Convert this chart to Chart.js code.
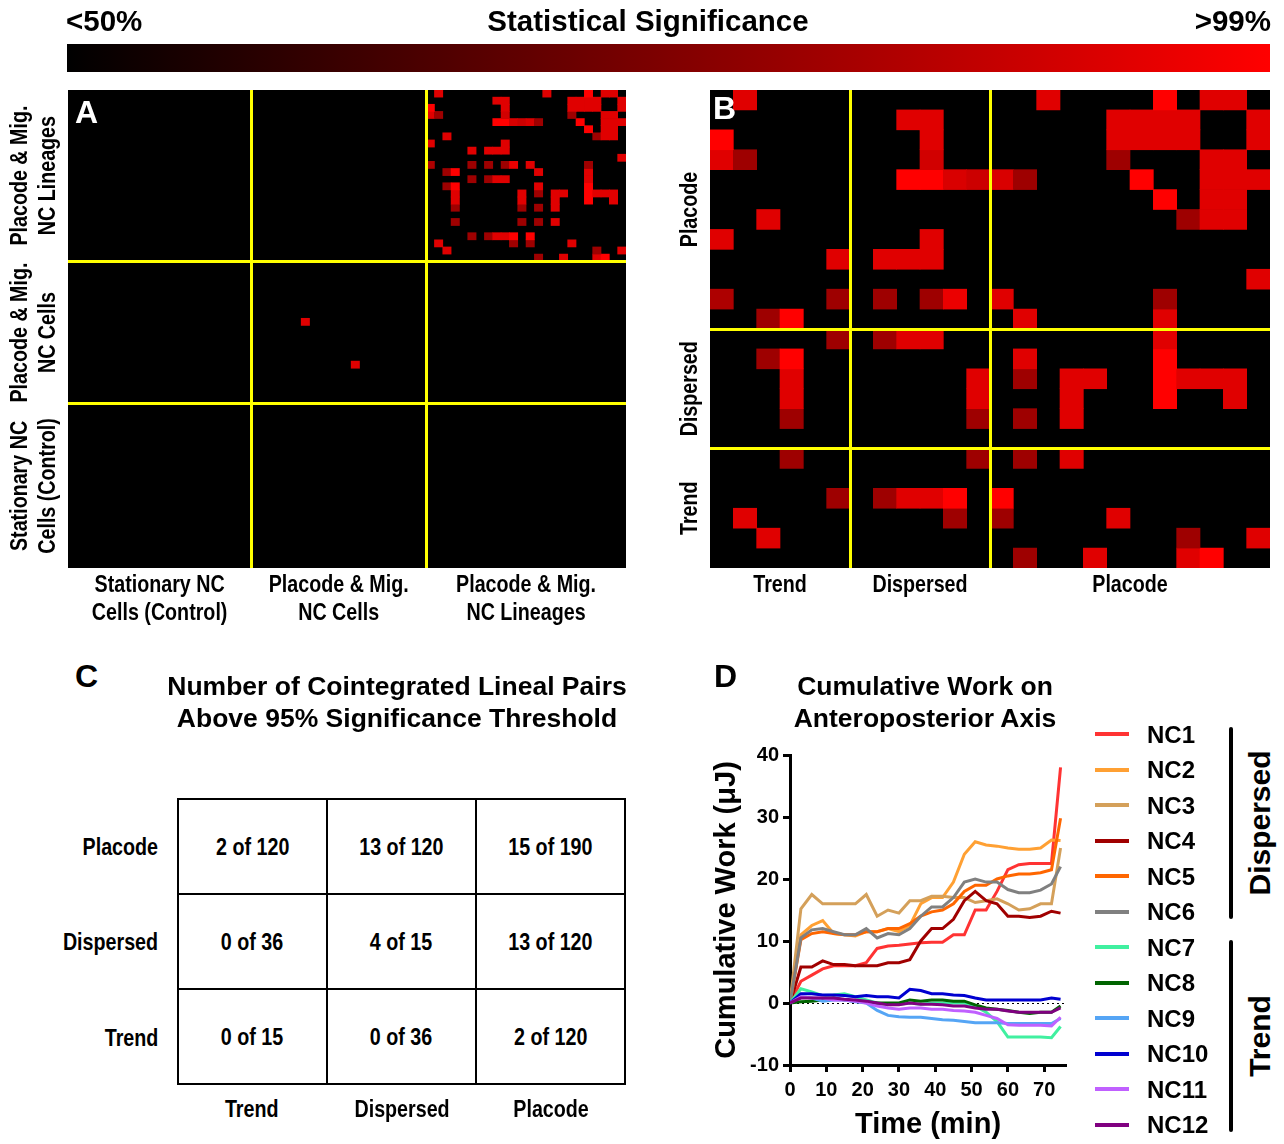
<!DOCTYPE html>
<html>
<head>
<meta charset="utf-8">
<script src="https://cdn.jsdelivr.net/npm/chart.js@4.4.1/dist/chart.umd.min.js"></script>
<style>
html,body{margin:0;padding:0;background:#fff;}
body{width:1284px;height:1144px;position:relative;overflow:hidden;font-family:"Liberation Sans",Arial,Helvetica,sans-serif;color:#000;}
canvas{position:absolute;}
.t{position:absolute;white-space:nowrap;font-weight:bold;}
.n{display:inline-block;transform:scaleX(0.82);font-weight:bold;white-space:nowrap;}
.rot{transform:translate(-50%,-50%) rotate(-90deg);}
#cbar{position:absolute;left:67px;top:44px;width:1203px;height:28px;background:linear-gradient(to right,#000 0%,#ff0000 100%);}
table.c{position:absolute;left:177px;top:798px;width:449px;height:287px;border-collapse:collapse;}
table.c td{border:2px solid #000;text-align:center;vertical-align:middle;font-size:24px;width:33.3%;height:33.3%;padding:0;}
</style>
</head>
<body>
<div id="cbar"></div>
<canvas id="chartA" width="642" height="640" style="left:0;top:0;width:642px;height:640px"></canvas>
<canvas id="chartB" width="642" height="640" style="left:642px;top:0;width:642px;height:640px"></canvas>
<canvas id="chartD" width="400" height="504" style="left:680px;top:640px;width:400px;height:504px"></canvas>
<div id="overlay"></div>
<script>
// ---------------- DATA ----------------
const sigTitle = 'Statistical Significance';
const sigLow = '<50%';
const sigHigh = '>99%';

// significance levels (0 = black, 1 = full red)
const B = 1.0, M = 0.88, D = 0.62;

// Panel B : 24 x 24 cells, [column, row, significance]
const colGroupLabelsB = ['Trend', 'Dispersed', 'Placode'];
const colGroupSizesB = [6, 6, 12];
const rowGroupLabelsB = ['Placode', 'Dispersed', 'Trend'];
const rowGroupSizesB = [12, 6, 6];
const cellsB = [
  [1,0,M],[14,0,M],[19,0,B],[21,0,M],[22,0,M],
  [8,1,M],[9,1,M],[17,1,M],[18,1,M],[19,1,M],[20,1,M],[23,1,M],
  [0,2,B],[9,2,M],[17,2,M],[18,2,M],[19,2,M],[20,2,M],[23,2,M],
  [0,3,M],[1,3,D],[9,3,0.82],[17,3,D],[21,3,M],[22,3,M],
  [8,4,B],[9,4,B],[10,4,0.85],[11,4,0.8],[12,4,0.85],[13,4,D],[18,4,B],[21,4,M],[22,4,M],[23,4,M],
  [19,5,B],[21,5,M],[22,5,M],
  [2,6,M],[20,6,D],[21,6,M],[22,6,M],
  [0,7,M],[9,7,M],
  [5,8,M],[7,8,M],[8,8,M],[9,8,M],
  [23,9,M],
  [0,10,0.68],[5,10,D],[7,10,D],[9,10,D],[10,10,0.92],[12,10,M],[19,10,D],
  [2,11,D],[3,11,B],[13,11,M],[19,11,M],
  [5,12,D],[7,12,D],[8,12,M],[9,12,M],[19,12,M],
  [2,13,D],[3,13,B],[13,13,M],[19,13,B],
  [3,14,M],[11,14,M],[13,14,D],[15,14,M],[16,14,M],[19,14,B],[20,14,M],[21,14,M],[22,14,M],
  [3,15,M],[11,15,M],[15,15,M],[19,15,B],[22,15,M],
  [3,16,D],[11,16,D],[13,16,D],[15,16,M],
  [3,18,D],[11,18,D],[13,18,D],[15,18,M],
  [5,20,D],[7,20,D],[8,20,M],[9,20,M],[10,20,B],[12,20,B],
  [1,21,M],[10,21,D],[12,21,D],[17,21,M],
  [2,22,M],[20,22,D],[23,22,M],
  [13,23,D],[16,23,M],[20,23,M],[21,23,B]
];

// Panel A : 67 x 67 cells; the lineage block (top right) shows the same pattern as panel B
const colGroupLabelsA = [['Stationary NC','Cells (Control)'], ['Placode & Mig.','NC Cells'], ['Placode & Mig.','NC Lineages']];
const colGroupSizesA = [22, 21, 24];
const rowGroupLabelsA = [['Placode & Mig.','NC Lineages'], ['Placode & Mig.','NC Cells'], ['Stationary NC','Cells (Control)']];
const rowGroupSizesA = [24, 20, 23];
const lineageColStartA = 43;
const cellsCellsA = [[28,32,M],[34,38,M]];

// Panel C
const tableTitleC = ['Number of Cointegrated Lineal Pairs', 'Above 95% Significance Threshold'];
const rowLabelsC = ['Placode', 'Dispersed', 'Trend'];
const colLabelsC = ['Trend', 'Dispersed', 'Placode'];
const pairsSig = [[2, 13, 15], [0, 4, 13], [0, 0, 2]];
const pairsTotal = [[120, 120, 190], [36, 15, 120], [15, 36, 120]];

// Panel D
const titleD = ['Cumulative Work on', 'Anteroposterior Axis'];
const timeMin = [0,3,6,9,12,15,18,21,24,27,30,33,36,39,42,45,48,51,54,57,60,63,66,69,72,74.5];
const workNC1  = [0,3.5,4.5,5.5,6,6,6,6.5,8.8,9.2,9.3,9.5,9.7,9.8,9.8,11,11,15,15,18,21.5,22.3,22.5,22.5,22.5,38];
const workNC2  = [0,11,12.5,13.3,11.2,11,10.8,11.5,11.5,12,11.5,12.5,16,17,17,19.5,24,26,25.5,25.3,25,24.8,24.8,25,26.3,26.2];
const workNC3  = [0,15.2,17.5,16,16,16,16,17.5,14,15,14.5,16.5,16.5,17.2,17.2,17,17,16.2,16.5,16.8,16,15,15.2,16,16,25];
const workNC4  = [0,5.8,5.8,6.8,6.2,6.2,6,6,6,6.5,6.5,7,10,12,12,13.5,16.5,18,16.5,16,14,14,13.8,14,14.8,14.5];
const workNC5  = [0,10.2,11.2,11.5,11.2,11,11,11.5,11.5,12,12,12.8,14,14.7,15,16,18,19,19,20,20.5,20.8,20.8,21,21.5,29.8];
const workNC6  = [0,10.5,11.8,12,11.5,11,11,12,10.5,11.2,11,12,14,15.5,15.5,17,19.5,20,19.5,19.5,18.3,17.8,17.8,18.2,19.2,22];
const workNC7  = [0,2.3,1.8,1.2,1.3,1.5,1,0.5,0,-0.2,-0.2,0,-0.2,0,0,0,0,-0.5,-1.5,-3,-5.5,-5.5,-5.5,-5.5,-5.6,-3.8];
const workNC8  = [0,0.2,0.3,0.5,0.8,0.5,0.3,0.2,0,0,0,0.5,0.3,0.5,0.5,0.3,0.3,-0.3,-0.8,-1,-1.2,-1.5,-1.7,-1.5,-1.5,-0.5];
const workNC9  = [0,1,0.8,0.3,0.5,0.5,0.2,0,-1.2,-2,-2.2,-2.3,-2.3,-2.5,-2.7,-2.8,-3,-3.2,-3.2,-3.2,-3.3,-3.3,-3.3,-3.3,-3.3,-2.5];
const workNC10 = [0,1.5,1.5,1.3,1.3,1.2,1,1.2,1,1,0.8,2.2,2,1.5,1.5,1.3,1.2,0.8,0.5,0.5,0.5,0.5,0.5,0.5,0.8,0.6];
const workNC11 = [0,1,0.8,0.8,0.5,0.5,0.3,0,-0.5,-0.8,-1,-0.8,-0.8,-1,-1,-1.2,-1.3,-1.5,-2,-2.5,-3.5,-3.6,-3.6,-3.6,-3.7,-2.3];
const workNC12 = [0,0.8,0.8,0.8,0.8,0.6,0.5,0.3,0,-0.3,-0.3,0,-0.2,-0.2,-0.3,-0.5,-0.5,-0.8,-1,-1,-1.3,-1.5,-1.5,-1.5,-1.5,-0.8];
const seriesNames = ['NC1','NC2','NC3','NC4','NC5','NC6','NC7','NC8','NC9','NC10','NC11','NC12'];
const seriesValues = [workNC1,workNC2,workNC3,workNC4,workNC5,workNC6,workNC7,workNC8,workNC9,workNC10,workNC11,workNC12];
const seriesColors = ['#ff3333','#ffa033','#d4a05a','#a00000','#ff6600','#808080','#40f0a0','#006400','#55a5f5','#0000d0','#c060ff','#800080'];
const seriesGroups = [{label:'Dispersed', from:0, to:5}, {label:'Trend', from:6, to:11}];
const xTicksD = [0,10,20,30,40,50,60,70];
const yTicksD = [-10,0,10,20,30,40];

// ---------------- DRAWING ----------------
Chart.defaults.font.family = '"Liberation Sans", Arial, sans-serif';
Chart.defaults.color = '#000';
const YELLOW = '#ffff00';
const NARROW_FONT = 'bold 24px "Liberation Sans", Arial, sans-serif';
const NARROW_SCALE = 0.82;

function sigColor(v){ return 'rgb(' + Math.round(255*v) + ',0,0)'; }
function cum(sizes){ const out=[0]; sizes.forEach(s=>out.push(out[out.length-1]+s)); return out; }
function narrowText(ctx, text, x, y, rotated){
  ctx.save(); ctx.translate(x, y);
  if (rotated) ctx.rotate(-Math.PI/2);
  ctx.scale(NARROW_SCALE, 1);
  ctx.fillText(text, 0, 0);
  ctx.restore();
}

const blackArea = {
  id: 'blackArea',
  beforeDraw(chart){
    const a = chart.chartArea, ctx = chart.ctx;
    ctx.save(); ctx.fillStyle = '#000'; ctx.fillRect(a.left, a.top, a.right-a.left, a.bottom-a.top); ctx.restore();
  }
};

function makeHeatmap(id, cfg){
  const nCols = cfg.colSizes.reduce((a,b)=>a+b,0);
  const nRows = cfg.rowSizes.reduce((a,b)=>a+b,0);
  const cb = cum(cfg.colSizes), rb = cum(cfg.rowSizes);
  const colBounds = cb.slice(1,-1), rowBounds = rb.slice(1,-1);
  const colCenters = cfg.colSizes.map((s,i)=>cb[i]+s/2);
  const rowCenters = cfg.rowSizes.map((s,i)=>rb[i]+s/2);
  const datasets = [];
  for (let r=0; r<nRows; r++){
    const rowCells = cfg.cells.filter(c=>c[1]===r);
    if (!rowCells.length) continue;
    const data = new Array(nCols).fill(null);
    const colors = new Array(nCols).fill('rgba(0,0,0,0)');
    rowCells.forEach(([c,,v])=>{ data[c]=[r,r+1]; colors[c]=sigColor(v); });
    datasets.push({data, backgroundColor:colors, borderWidth:0, borderSkipped:false, grouped:false,
      barPercentage:1, categoryPercentage:1, xAxisID:'x', yAxisID:'y'});
  }
  const groupLabelPlugin = {
    id: 'groupLabels',
    afterDraw(chart){
      const ys = chart.scales.y, xs = chart.scales.xl, ctx = chart.ctx, a = chart.chartArea;
      ctx.save();
      ctx.font = NARROW_FONT;
      ctx.fillStyle = '#000'; ctx.textAlign = 'center'; ctx.textBaseline = 'middle';
      cfg.rowLabels.forEach((lab,i)=>{
        const lines = Array.isArray(lab) ? lab : [lab];
        const y = ys.getPixelForValue(rowCenters[i]);
        lines.forEach((line,j)=>narrowText(ctx, line, a.left - 20 - (lines.length-1-j)*28, y, true));
      });
      cfg.colLabels.forEach((lab,i)=>{
        const lines = Array.isArray(lab) ? lab : [lab];
        const x = xs.getPixelForValue(colCenters[i]);
        lines.forEach((line,j)=>narrowText(ctx, line, x, a.bottom + 17 + j*28, false));
      });
      ctx.restore();
    }
  };
  return new Chart(document.getElementById(id), {
    type: 'bar',
    data: { labels: Array.from({length:nCols},(_,i)=>String(i)), datasets },
    options: {
      responsive:false, animation:false, devicePixelRatio:1,
      layout:{ padding: cfg.padding },
      plugins:{ legend:{display:false}, tooltip:{enabled:false} },
      scales:{
        x:{ type:'category', display:false, offset:true },
        xl:{ type:'linear', position:'bottom', min:0, max:nCols, offset:false,
          afterBuildTicks: s => { s.ticks = colBounds.map(v=>({value:v})); },
          afterFit: s => { s.height = cfg.xAxisHeight; },
          ticks:{ display:false },
          grid:{ z:1, offset:false, drawTicks:false, lineWidth:3, color:YELLOW },
          border:{ display:false }
        },
        y:{ type:'linear', position:'left', min:0, max:nRows, reverse:true, offset:false,
          afterBuildTicks: s => { s.ticks = rowBounds.map(v=>({value:v})); },
          afterFit: s => { s.width = cfg.yAxisWidth; },
          ticks:{ display:false },
          grid:{ z:1, offset:false, drawTicks:false, lineWidth:3, color:YELLOW },
          border:{ display:false }
        }
      }
    },
    plugins:[blackArea, groupLabelPlugin]
  });
}

const cellsA = cellsB.map(([c,r,v]) => [c + lineageColStartA, r, v]).concat(cellsCellsA);

makeHeatmap('chartA', { cells:cellsA, colSizes:colGroupSizesA, rowSizes:rowGroupSizesA,
  colLabels:colGroupLabelsA, rowLabels:rowGroupLabelsA, yAxisWidth:68, xAxisHeight:72,
  padding:{left:0, top:90, right:16, bottom:0} });
makeHeatmap('chartB', { cells:cellsB, colSizes:colGroupSizesB, rowSizes:rowGroupSizesB,
  colLabels:colGroupLabelsB, rowLabels:rowGroupLabelsB, yAxisWidth:68, xAxisHeight:72,
  padding:{left:0, top:90, right:14, bottom:0} });

// Panel D line chart
new Chart(document.getElementById('chartD'), {
  type:'line',
  data:{ datasets: seriesNames.map((n,i)=>({
    label:n, data: timeMin.map((t,k)=>({x:t, y:seriesValues[i][k]})),
    borderColor:seriesColors[i], backgroundColor:seriesColors[i], borderWidth:3, pointRadius:0, tension:0, fill:false
  })).reverse() },
  options:{
    responsive:false, animation:false, devicePixelRatio:1,
    layout:{ padding:{left:0, top:115, right:14, bottom:0} },
    plugins:{ legend:{display:false}, tooltip:{enabled:false} },
    scales:{
      x:{ type:'linear', min:0, max:76,
        afterBuildTicks: s => { s.ticks = xTicksD.map(v=>({value:v})); },
        afterFit: s => { s.height = 79; },
        ticks:{ autoSkip:false, maxRotation:0, padding:6, color:'#000', font:{size:20, weight:'bold'} },
        grid:{ drawOnChartArea:false, drawTicks:true, tickLength:7, tickWidth:3, tickColor:'#000' },
        border:{ display:true, width:3, color:'#000' },
        title:{ display:true, text:'Time (min)', color:'#000', font:{size:29, weight:'bold'}, padding:{top:0, bottom:2} }
      },
      y:{ type:'linear', min:-10, max:40,
        afterBuildTicks: s => { s.ticks = yTicksD.map(v=>({value:v})); },
        afterFit: s => { s.width = 110; },
        ticks:{ autoSkip:false, padding:4, color:'#000', font:{size:20, weight:'bold'} },
        grid:{ drawTicks:true, tickLength:7, tickWidth:3, tickColor:'#000', lineWidth:1,
          color: c => (c.tick && c.tick.value === 0) ? '#000' : 'rgba(0,0,0,0)' },
        border:{ display:true, width:3, color:'#000', dash:[2,3] },
        title:{ display:true, text:'Cumulative Work (\u03BCJ)', color:'#000', font:{size:29, weight:'bold'}, padding:{top:30, bottom:0} }
      }
    }
  }
});

// ---------------- HTML TEXT ----------------
const ov = document.getElementById('overlay');
function txt(s, o){
  const d = document.createElement('div');
  d.className = 't';
  if (o.narrow){
    const sp = document.createElement('span'); sp.className = 'n'; sp.textContent = s;
    sp.style.transformOrigin = o.align === 'right' ? 'right center' : 'center center';
    d.appendChild(sp);
  } else d.textContent = s;
  const h = o.h || Math.round(o.size*1.3);
  d.style.fontSize = o.size + 'px';
  d.style.lineHeight = h + 'px';
  if (o.rot){ d.classList.add('rot'); d.style.left = o.cx + 'px'; d.style.top = o.cy + 'px'; }
  else {
    d.style.top = (o.cy - h/2) + 'px';
    if (o.align === 'center'){ d.style.left = (o.cx - 400) + 'px'; d.style.width = '800px'; d.style.textAlign = 'center'; }
    else if (o.align === 'right'){ d.style.left = (o.x - 400) + 'px'; d.style.width = '400px'; d.style.textAlign = 'right'; }
    else d.style.left = o.x + 'px';
  }
  if (o.color) d.style.color = o.color;
  ov.appendChild(d);
  return d;
}
// colour bar labels
txt(sigLow, {size:29.5, x:66, cy:21});
txt(sigTitle, {size:29.5, align:'center', cx:648, cy:21});
txt(sigHigh, {size:29.5, align:'right', x:1271, cy:21});
// panel letters
txt('A', {size:32, x:75, cy:112, color:'#fff'});
txt('B', {size:32, x:713, cy:108, color:'#fff'});
txt('C', {size:32, x:75, cy:676});
txt('D', {size:32, x:714, cy:676});
// panel C title
tableTitleC.forEach((s,i)=>txt(s, {size:26.5, align:'center', cx:397, cy:686+i*32}));
// panel D title
titleD.forEach((s,i)=>txt(s, {size:26.5, align:'center', cx:925, cy:686+i*32}));

// table C
const tbl = document.createElement('table'); tbl.className = 'c';
pairsSig.forEach((row,i)=>{
  const tr = document.createElement('tr');
  row.forEach((v,j)=>{
    const td = document.createElement('td');
    const sp = document.createElement('span'); sp.className = 'n'; sp.textContent = v + ' of ' + pairsTotal[i][j];
    td.appendChild(sp); tr.appendChild(td);
  });
  tbl.appendChild(tr);
});
ov.appendChild(tbl);
rowLabelsC.forEach((s,i)=>txt(s, {size:24, narrow:true, align:'right', x:158, cy:846+i*95.5}));
colLabelsC.forEach((s,i)=>txt(s, {size:24, narrow:true, align:'center', cx:252+i*149.7, cy:1108}));

// legend D
seriesNames.forEach((n,i)=>{
  const cy = 734 + i*35.5;
  const ln = document.createElement('div');
  ln.style.cssText = 'position:absolute;left:1095px;width:34px;height:4px;top:'+(cy-2)+'px;background:'+seriesColors[i]+';';
  ov.appendChild(ln);
  txt(n, {size:24, x:1147, cy:cy});
});
seriesGroups.forEach(g=>{
  const y0 = 734 + g.from*35.5 - 7, y1 = 734 + g.to*35.5 + 7;
  const br = document.createElement('div');
  br.style.cssText = 'position:absolute;left:1229px;width:4px;border-radius:2px;background:#000;top:'+y0+'px;height:'+(y1-y0)+'px;';
  ov.appendChild(br);
  txt(g.label, {size:30, rot:true, cx:1259, cy:(y0+y1)/2});
});
</script>
</body>
</html>
